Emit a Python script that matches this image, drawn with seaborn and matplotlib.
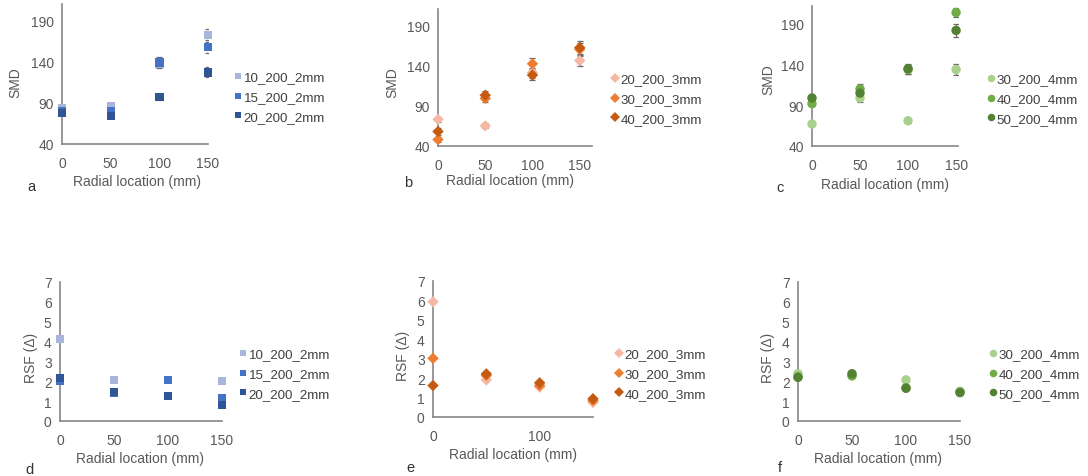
import numpy as np
import pandas as pd
import matplotlib
matplotlib.use("Agg")
import matplotlib.pyplot as plt
import seaborn as sns

sns.set_theme(style="white")
plt.rcParams['font.family'] = ['Liberation Sans', 'DejaVu Sans']

x_loc = [0, 50, 100, 150]

# Panel a: SMD, 2mm
a_names = ["10_200_2mm", "15_200_2mm", "20_200_2mm"]
a_smd = [[84, 86, 137, 172], [80, 80, 139, 158], [78, 74, 97, 127]]
a_err = [[3, 3, 4, 8], [3, 3, 7, 8], [3, 3, 3, 6]]
# Panel b: SMD, 3mm
b_names = ["20_200_3mm", "30_200_3mm", "40_200_3mm"]
b_smd = [[73, 65, 131, 146], [48, 99, 142, 160], [58, 103, 128, 162]]
b_err = [[3, 3, 6, 7], [3, 5, 7, 8], [4, 5, 6, 8]]
# Panel c: SMD, 4mm
c_names = ["30_200_4mm", "40_200_4mm", "50_200_4mm"]
c_smd = [[67, 99, 71, 134], [92, 110, 134, 204], [99, 105, 135, 182]]
c_err = [[3, 5, 3, 7], [3, 6, 5, 6], [3, 7, 6, 8]]
# Panel d: RSF, 2mm
d_rsf = [[4.12, 2.05, 2.05, 2.0], [2.0, 1.42, 2.08, 1.17], [2.17, 1.45, 1.25, 0.82]]
# Panel e: RSF, 3mm
e_rsf = [[5.93, 1.91, 1.54, 0.75], [3.02, 2.14, 1.62, 0.85], [1.62, 2.22, 1.76, 0.94]]
# Panel f: RSF, 4mm
f_rsf = [[2.38, 2.33, 2.07, 1.5], [2.22, 2.27, 1.67, 1.45], [2.2, 2.38, 1.65, 1.43]]

blues = ["#A9B6DC", "#4472C4", "#2F5597"]
oranges = ["#F4B8A4", "#ED7D31", "#C55A11"]
greens = ["#A9D18E", "#70AD47", "#548235"]

W, H = 1088, 477
fig = plt.figure(figsize=(W / 100, H / 100), dpi=100)


def px_axes(x0, y0, x1, y1):
    return fig.add_axes([x0 / W, 1 - y1 / H, (x1 - x0) / W, (y1 - y0) / H])


panels = [
    dict(box=(62, 5, 208, 145), names=a_names, vals=a_smd, err=a_err, cols=blues, marker="s",
         ylim=(40, 210), yticks=[40, 90, 140, 190], xlim=(0, 150), xticks=[0, 50, 100, 150],
         ylabel="SMD", ylab=(15, 83), letter="a", lpos=(31, 187), xlab=(137, 182), leg=(225, 98)),
    dict(box=(438, 10, 592, 147), names=b_names, vals=b_smd, err=b_err, cols=oranges, marker="D",
         ylim=(40, 210), yticks=[40, 90, 140, 190], xlim=(0, 163), xticks=[0, 50, 100, 150],
         ylabel="SMD", ylab=(392, 83), letter="b", lpos=(408, 183), xlab=(510, 181), leg=(602, 100)),
    dict(box=(812, 7, 958, 147), names=c_names, vals=c_smd, err=c_err, cols=greens, marker="o",
         ylim=(40, 212), yticks=[40, 90, 140, 190], xlim=(0, 152), xticks=[0, 50, 100, 150],
         ylabel="SMD", ylab=(768, 80), letter="c", lpos=(780, 188), xlab=(885, 185), leg=(978, 100)),
    dict(box=(60, 283, 222, 422), names=a_names, vals=d_rsf, err=None, cols=blues, marker="s",
         ylim=(0, 7), yticks=list(range(8)), xlim=(0, 150), xticks=[0, 50, 100, 150],
         ylabel="RSF (Δ)", ylab=(31, 358), letter="d", lpos=(30, 470), xlab=(140, 459), leg=(230, 375)),
    dict(box=(433, 282, 593, 418), names=b_names, vals=e_rsf, err=None, cols=oranges, marker="D",
         ylim=(0, 7), yticks=list(range(8)), xlim=(0, 150), xticks=[0, 100],
         ylabel="RSF (Δ)", ylab=(403, 356), letter="e", lpos=(410, 468), xlab=(513, 455), leg=(606, 375)),
    dict(box=(798, 283, 960, 422), names=c_names, vals=f_rsf, err=None, cols=greens, marker="o",
         ylim=(0, 7), yticks=list(range(8)), xlim=(0, 150), xticks=[0, 50, 100, 150],
         ylabel="RSF (Δ)", ylab=(768, 358), letter="f", lpos=(780, 468), xlab=(878, 459), leg=(980, 375)),
]

tick_color = "#595959"
text_color = "#404040"
spine_color = "#868686"
fs = 10
lfs = 9.6

for p in panels:
    ax = px_axes(*p["box"])
    rows = []
    for name, vals in zip(p["names"], p["vals"]):
        for xv, yv in zip(x_loc, vals):
            rows.append(dict(x=xv, y=yv, series=name))
    df = pd.DataFrame(rows)
    if p["err"] is not None:
        for name, vals, errs in zip(p["names"], p["vals"], p["err"]):
            ax.errorbar(x_loc, vals, yerr=errs, fmt="none", ecolor="#6a6a6a",
                        elinewidth=0.9, capsize=2.5, capthick=0.9, zorder=1)
    msize = 36 if p["marker"] == "s" else (34 if p["marker"] == "D" else 46)
    sns.scatterplot(data=df, x="x", y="y", hue="series", hue_order=p["names"],
                    palette=p["cols"], marker=p["marker"], s=msize, linewidth=0,
                    ax=ax, zorder=3, clip_on=False)
    ax.set_xlim(*p["xlim"])
    ax.set_ylim(*p["ylim"])
    ax.set_xticks(p["xticks"])
    ax.set_yticks(p["yticks"])
    ax.tick_params(axis="both", length=0, labelsize=fs, colors=tick_color)
    ax.tick_params(axis="x", pad=9)
    ax.tick_params(axis="y", pad=6)
    for s in ["top", "right"]:
        ax.spines[s].set_visible(False)
    for s in ["left", "bottom"]:
        ax.spines[s].set_color(spine_color)
        ax.spines[s].set_linewidth(1.2)
    ax.set_xlabel("")
    ax.set_ylabel("")
    # axis titles positioned in pixel coordinates
    fig.text(p["xlab"][0] / W, 1 - p["xlab"][1] / H, "Radial location (mm)", ha="center",
             va="center", fontsize=fs, color=tick_color)
    fig.text(p["ylab"][0] / W, 1 - p["ylab"][1] / H, p["ylabel"], ha="center", va="center",
             rotation=90, fontsize=fs, color=tick_color)
    fig.text(p["lpos"][0] / W, 1 - p["lpos"][1] / H, p["letter"], ha="center", va="center",
             fontsize=fs + 0.5, color="#333333")
    sns.move_legend(ax, "center left",
                    bbox_to_anchor=(p["leg"][0] / W, 1 - p["leg"][1] / H),
                    bbox_transform=fig.transFigure, frameon=False, title=None,
                    fontsize=lfs, handletextpad=0.0, labelspacing=0.55,
                    borderpad=0, handlelength=0.9, markerscale=0.8)
    for t in ax.get_legend().get_texts():
        t.set_color(text_color)

fig.savefig("out.png", dpi=100)
